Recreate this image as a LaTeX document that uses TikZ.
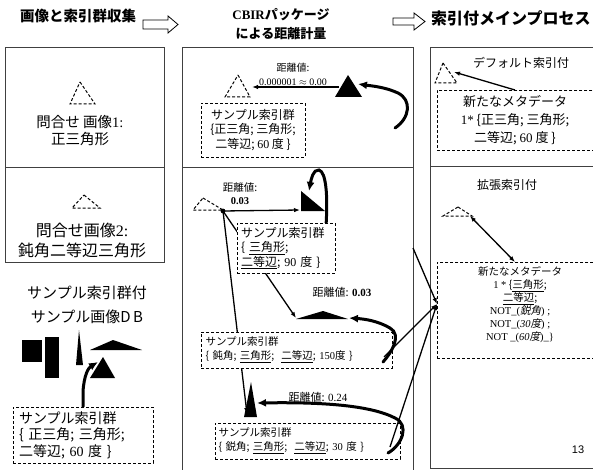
\documentclass[tikz,border=0pt]{standalone}
\usepackage{fontspec}
\setmainfont{Liberation Serif}
\newfontfamily\jp{Noto Sans CJK JP}
\newfontfamily\jpsl[FakeSlant=0.2]{Noto Sans CJK JP}
\newfontfamily\lsans{Liberation Sans}
\usetikzlibrary{arrows.meta}
\newcommand\lat[1]{{\rmfamily #1}}
\newcommand\fsz[2]{\fontsize{#1}{#2}\selectfont}
\begin{document}
\begin{tikzpicture}[x=1pt,y=-1pt,
  panel/.style={draw=black!75, line width=0.9pt},
  dbox/.style={draw=black, densely dashed, line width=0.9pt, fill=white, inner sep=0pt},
  qtri/.style={draw=black, densely dashed, line width=1pt},
  tarr/.style={-{Latex[length=6pt,width=4.5pt]}, line width=1.3pt},
  barr/.style={{Latex[length=6pt,width=4.5pt]}-{Latex[length=6pt,width=4.5pt]}, line width=1.3pt},
  karr/.style={-{Latex[length=9pt,width=8pt]}, line width=3pt, line cap=round},
  txt/.style={inner sep=0pt, align=center, font=\jp},
  hollow/.style={draw=black, line width=0.8pt, fill=white},
]
\useasboundingbox (0,0) rectangle (593,470);
\clip (0,0) rectangle (593,470);
\fill[white] (0,0) rectangle (593,470);

% panels
\draw[panel] (5,47) rectangle (164,262);
\draw[panel] (5,167) -- (164,167);
\draw[panel] (182,47) rectangle (413,480);
\draw[panel] (182,167) -- (413,167);
\draw[panel] (430,47) rectangle (610,468);
\draw[panel] (430,166) -- (610,166);

% titles
\draw[hollow] (143,20) -- (168,20) -- (168,16) -- (178,24.5) -- (168,33) -- (168,29) -- (143,29) -- cycle;
\node[txt, anchor=west, font=\jp\bfseries\fsz{14.5}{16}] (t1) at (20,16) {画像と索引群収集};
\node[txt, font=\jp\bfseries\fsz{13}{19}] (t2) at (281,24.5) {\lat{\bfseries CBIR}パッケージ\\による距離計量};
\draw[hollow] (393,18) -- (414,18) -- (414,13) -- (425,21.5) -- (414,30) -- (414,25) -- (393,25) -- cycle;
\node[txt, anchor=west, font=\jp\bfseries\fsz{16}{18}] (t3) at (431,18) {索引付メインプロセス};

% left column
\draw[qtri] (80,82) -- (95,104) -- (70,104) -- cycle;
\node[txt, font=\jp\fsz{14.5}{17}] (q1) at (80,131) {問合せ 画像\lat{1:}\\正三角形};
\draw[qtri] (84,195) -- (100,208) -- (72,208) -- cycle;
\node[txt, font=\jp\fsz{16}{20}] (q2) at (82,240) {問合せ画像\lat{2:}\\鈍角二等辺三角形};
\node[txt, font=\jp\fsz{15}{24}] (db) at (87,305) {サンプル索引群付\\サンプル画像D\,B};
\fill (22,340) rectangle (42,362);
\fill (45,337) rectangle (59,378);
\fill (79,330) -- (83,365) -- (76,365) -- cycle;
\fill (113,340) -- (142,350) -- (90,350) -- cycle;
\fill (103,357) -- (115,378) -- (90,378) -- cycle;
\node[dbox, text width=128pt, minimum height=56pt, inner xsep=6pt, align=left, font=\jp\fsz{14}{16.5}] (lb) at (83,435) {サンプル索引群\\\{ 正三角; 三角形;\\二等辺; \lat{60} 度 \}};
\draw[karr] (lb.north) -- ++(0,-15) .. controls (84,376) and (88,368) .. (98,362);

% middle top
\node[txt, font=\jp\fsz{10}{14}] (d1) at (293,74) {距離値:\\\lat{0.000001 $\approx$ 0.00}};
\draw[qtri] (238,75) -- (250,97) -- (225,97) -- cycle;
\fill (348,75) -- (362,97) -- (335,97) -- cycle;
\coordinate (qt1) at (252,87);
\coordinate (bt1) at (339,87);
\draw[tarr] (bt1) -- (qt1);
\coordinate (k1s) at (395,128);
\draw[karr] (k1s) .. controls (410,118) and (412,100) .. (398,93) .. controls (385,87) and (372,86) .. (358,84);
\node[dbox, minimum width=104pt, minimum height=54pt, align=center, font=\jp\fsz{12}{14.5}] (mt) at (253,130) {サンプル索引群\\\{正三角; 三角形;\\二等辺; \lat{60} 度 \}};

% middle bottom
\node[txt, font=\jp\fsz{10.5}{13}] (d2) at (240,193.5) {距離値:\\\lat{\bfseries 0.03}};
\draw[qtri] (203,198) -- (223,210) -- (193,210) -- cycle;
\fill (301,191) -- (325,211) -- (301,211) -- cycle;
\coordinate (dot) at (223,211);
\fill (dot) circle (2.4);
\draw[tarr] (dot) -- (300,210);
\draw[karr] (326,226) .. controls (328,195) and (326,172) .. (319,170) .. controls (313,169) and (311,180) .. (309,191);

\fill (296,319) -- (323,311) -- (348,319) -- cycle;
\fill (251,382) -- (257,417) -- (244,417) -- cycle;
\draw[tarr] (dot) -- (296,318);
\draw[tarr] (dot) -- (247,414);

\node[dbox, minimum width=98pt, minimum height=50pt, text width=90pt, align=left, font=\jp\fsz{12}{14.5}] (b90) at (286,248) {サンプル索引群\\\{ \underline{三角形};\\\underline{二等辺}; \lat{90} 度 \}};
\node[dbox, minimum width=191pt, minimum height=36pt, text width=182pt, align=left, font=\jp\fsz{10.5}{14}] (b150) at (296.5,350) {サンプル索引群\\\{ 鈍角; \underline{三角形}; \ \underline{二等辺}; \lat{150}度 \}};
\node[dbox, minimum width=185pt, minimum height=36pt, text width=178pt, align=left, font=\jp\fsz{10.5}{14}] (b30) at (307.5,441) {サンプル索引群\\\{ 鋭角; \underline{三角形}; \ \underline{二等辺}; \lat{30} 度 \}};

\node[txt, font=\jp\fsz{11}{13}] (d3) at (342,292) {距離値: \lat{\bfseries 0.03}};
\draw[karr] (383,362) .. controls (392,352) and (402,335) .. (390,328) .. controls (378,321) and (365,319) .. (349,318);
\draw[karr] (388,453) .. controls (402,445) and (410,425) .. (395,418) .. controls (370,405) and (320,402) .. (257,403);
\node[txt, font=\jp\fsz{11}{13}] (d4) at (318,397) {距離値: \lat{0.24}};

% right column
\draw[qtri] (443,63) -- (457,83) -- (435,83) -- cycle;
\node[txt, font=\jp\fsz{12}{14}] (def) at (521,63) {デフォルト索引付};
\node[dbox, minimum width=170pt, minimum height=60pt, anchor=north west] (r1) at (437,90) {};
\node[txt, font=\jp\fsz{13}{18}] (r1t) at (515,120) {新たなメタデータ\\\lat{1*} \{正三角; 三角形;\\二等辺; \lat{60} 度 \}};
\coordinate (r1top) at (515,90);
\coordinate (rt1) at (454,72);
\draw[tarr] (r1top) -- (rt1);

\node[txt, font=\jp\fsz{12}{14}] (ext) at (507,185) {拡張索引付};
\draw[qtri] (458,207) -- (472,216) -- (443,216) -- cycle;
\node[dbox, minimum width=170pt, minimum height=96pt, anchor=north west] (r2) at (437,262) {};
\node[txt, font=\jp\fsz{10.5}{13}] (r2t) at (520,305) {新たなメタデータ\\\lat{1 *} \{\underline{三角形};\\\underline{二等辺};\\\lat{NOT\_(}{\jpsl 鋭角}\lat{) ;}\\\lat{NOT\_(\textit{30}}{\jpsl 度}\lat{) ;}\\\lat{NOT \_(\textit{60}}{\jpsl 度}\lat{)\_\}}};
\coordinate (rt2) at (470,216);
\coordinate (r2top) at (515,262);
\draw[barr] (rt2) -- (r2top);

\coordinate (r2in) at (437,304);
\coordinate (m90) at (413,248);
\draw[tarr] (384,357) -- (r2in);
\draw[tarr] (390,447) -- (r2in);
\draw[tarr] (m90) -- (r2in);

\node[font=\lsans\fsz{11}{13}, inner sep=0pt] (pg) at (578,450) {13};
\end{tikzpicture}
\end{document}
